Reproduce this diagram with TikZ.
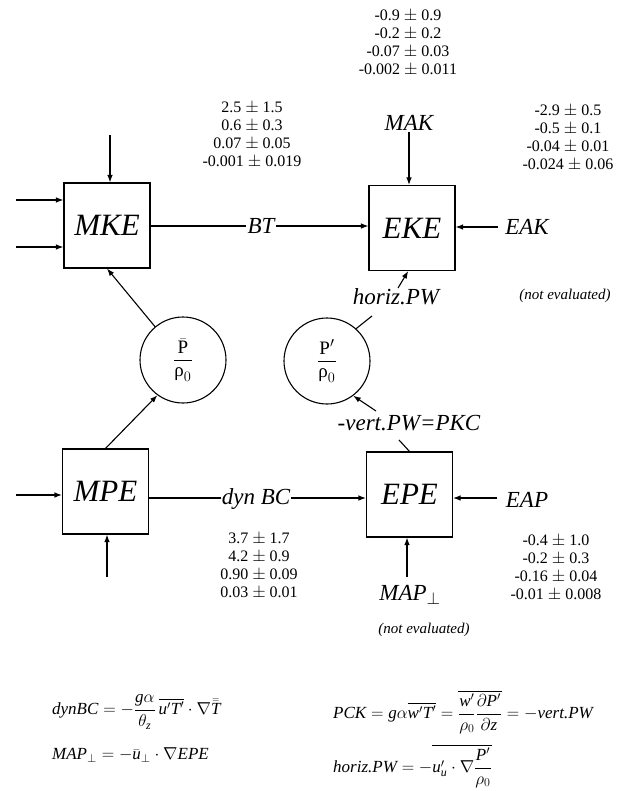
\documentclass[tikz,border=0pt]{standalone}
\usepackage{fontspec}
\setmainfont{Liberation Serif}
\usepackage{amsmath}
\usepackage{amssymb}
\usetikzlibrary{arrows.meta, positioning}
\newcommand{\vi}[1]{\textit{#1}}

\tikzset{
  energy/.style={draw, line width=1.1pt, minimum width=86pt, minimum height=85pt,
    inner sep=0pt, font=\fontsize{31}{33}\selectfont\itshape},
  press/.style={draw, circle, line width=1.1pt, minimum size=86pt, inner sep=0pt,
    font=\fontsize{19}{21}\selectfont},
  flux/.style={font=\fontsize{23}{25}\selectfont\itshape, inner sep=1pt},
  vals/.style={font=\fontsize{16}{18}\selectfont, align=center, inner sep=0pt},
  note/.style={font=\fontsize{15}{17}\selectfont\itshape, inner sep=0pt},
  formula/.style={inner sep=0pt, anchor=west, font=\fontsize{17}{19}\selectfont},
  link/.style={line width=1.1pt, -{Latex[length=7.5pt,width=5.5pt]}},
  bare/.style={line width=1.1pt},
}

\begin{document}
\begin{tikzpicture}[x=1pt,y=-1pt]
\useasboundingbox (0,0) rectangle (622,791);

% Energy reservoirs
\node[energy] (MKE) at (107,225.5) {MKE};
\node[energy] (EKE) at (412,228) {EKE};
\node[energy] (MPE) at (105.5,491.5) {MPE};
\node[energy] (EPE) at (409.5,494.5) {EPE};

% Pressure work reservoirs
\node[press] (Pmean) at (183,360) {$\dfrac{\bar{\text{P}}}{\text{ρ}_0}$};
\node[press] (Pprime) at (327,361) {$\dfrac{\text{P}'}{\text{ρ}_0}$};

% Conversion and source labels
\node[flux] (BT) at (261,226) {BT};
\node[flux] (MAK) at (409,123) {MAK};
\node[flux] (EAK) at (527,227) {EAK};
\node[flux] (dynBC) at (256,499) {dyn BC};
\node[flux] (EAP) at (527,500) {EAP};
\node[flux] (hPW) at (396,297) {horiz.PW};
\node[flux] (vPW) at (409,423) {-vert.PW=PKC};
\node[flux] (MAP) at (410,595) {MAP$_{\perp}$};
\node[note] (neA) at (565,296) {(not evaluated)};
\node[note] (neB) at (424,630) {(not evaluated)};

% Estimated values
\node[vals] (valBT) at (252,135) {2.5 $\pm$ 1.5\\0.6 $\pm$ 0.3\\0.07 $\pm$ 0.05\\-0.001 $\pm$ 0.019};
\node[vals] (valMAK) at (408,43) {-0.9 $\pm$ 0.9\\-0.2 $\pm$ 0.2\\-0.07 $\pm$ 0.03\\-0.002 $\pm$ 0.011};
\node[vals] (valEAK) at (568,138) {-2.9 $\pm$ 0.5\\-0.5 $\pm$ 0.1\\-0.04 $\pm$ 0.01\\-0.024 $\pm$ 0.06};
\node[vals] (valBC) at (259,566) {3.7 $\pm$ 1.7\\4.2 $\pm$ 0.9\\0.90 $\pm$ 0.09\\0.03 $\pm$ 0.01};
\node[vals] (valEAP) at (556,568) {-0.4 $\pm$ 1.0\\-0.2 $\pm$ 0.3\\-0.16 $\pm$ 0.04\\-0.01 $\pm$ 0.008};

% Free ends of the connectors
\coordinate (inA) at (16,200);
\coordinate (inB) at (16,247);
\coordinate (inC) at (110,135);
\coordinate (inD) at (16,495);
\coordinate (inE) at (107,577);
\coordinate (inF) at (407,577);
\coordinate (tailEAK) at (498,227);
\coordinate (tailEAP) at (497,498);
\coordinate (hPWfoot) at (372,316);
\coordinate (hPWtop) at (398,288);
\coordinate (vPWfoot) at (399,440);
\coordinate (vPWtop) at (376,411);

% Connectors
\draw[link] (inA) -- (inA -| MKE.west);
\draw[link] (inB) -- (inB -| MKE.west);
\draw[link] (inC) -- (inC |- MKE.north);
\draw[bare] (BT.west -| MKE.east) -- (BT.west);
\draw[link] (BT.east) -- (BT.east -| EKE.west);
\draw[link] (MAK.south) -- (MAK.south |- EKE.north);
\draw[link] (tailEAK) -- (tailEAK -| EKE.east);
\draw[link] (Pmean.130) -- (MKE.south);
\draw[link] (MPE.north) -- (Pmean.234);
\draw[bare] (Pprime.48) -- (hPWfoot);
\draw[link] (hPWtop) -- (EKE.265);
\draw[bare] (EPE.north) -- (vPWfoot);
\draw[link] (vPWtop) -- (Pprime.307);
\draw[link] (inD) -- (inD -| MPE.west);
\draw[link] (inE) -- (inE |- MPE.south);
\draw[bare] (tailEAP -| MPE.east) -- (tailEAP -| dynBC.west);
\draw[link] (tailEAP -| dynBC.east) -- (tailEAP -| EPE.west);
\draw[link] (tailEAP) -- (tailEAP -| EPE.east);
\draw[link] (inF) -- (inF |- EPE.south);

% Definitions of the terms
\node[formula] (fBC) at (52,712)
  {$\vi{dynBC} = -\dfrac{\vi{g}\alpha}{\theta_{\vi{z}}}\,\overline{\vi{u}'\vi{T}'}\cdot\nabla\bar{\bar{\vi{T}}}$};
\node[formula] (fMAP) at (52,755)
  {$\vi{MAP}_{\perp} = -\bar{\vi{u}}_{\perp}\cdot\nabla\vi{EPE}$};
\node[formula] (fPCK) at (333,712)
  {$\vi{PCK} = \vi{g}\alpha\overline{\vi{w}'\vi{T}'} = \overline{\dfrac{\vi{w}'}{\rho_0}\dfrac{\partial\vi{P}'}{\partial\vi{z}}} = -\vi{vert.PW}$};
\node[formula] (fPW) at (333,766)
  {$\vi{horiz.PW} = -\overline{\vi{u}'_{\vi{u}}\cdot\nabla\dfrac{\vi{P}'}{\rho_0}}$};
\end{tikzpicture}
\end{document}
